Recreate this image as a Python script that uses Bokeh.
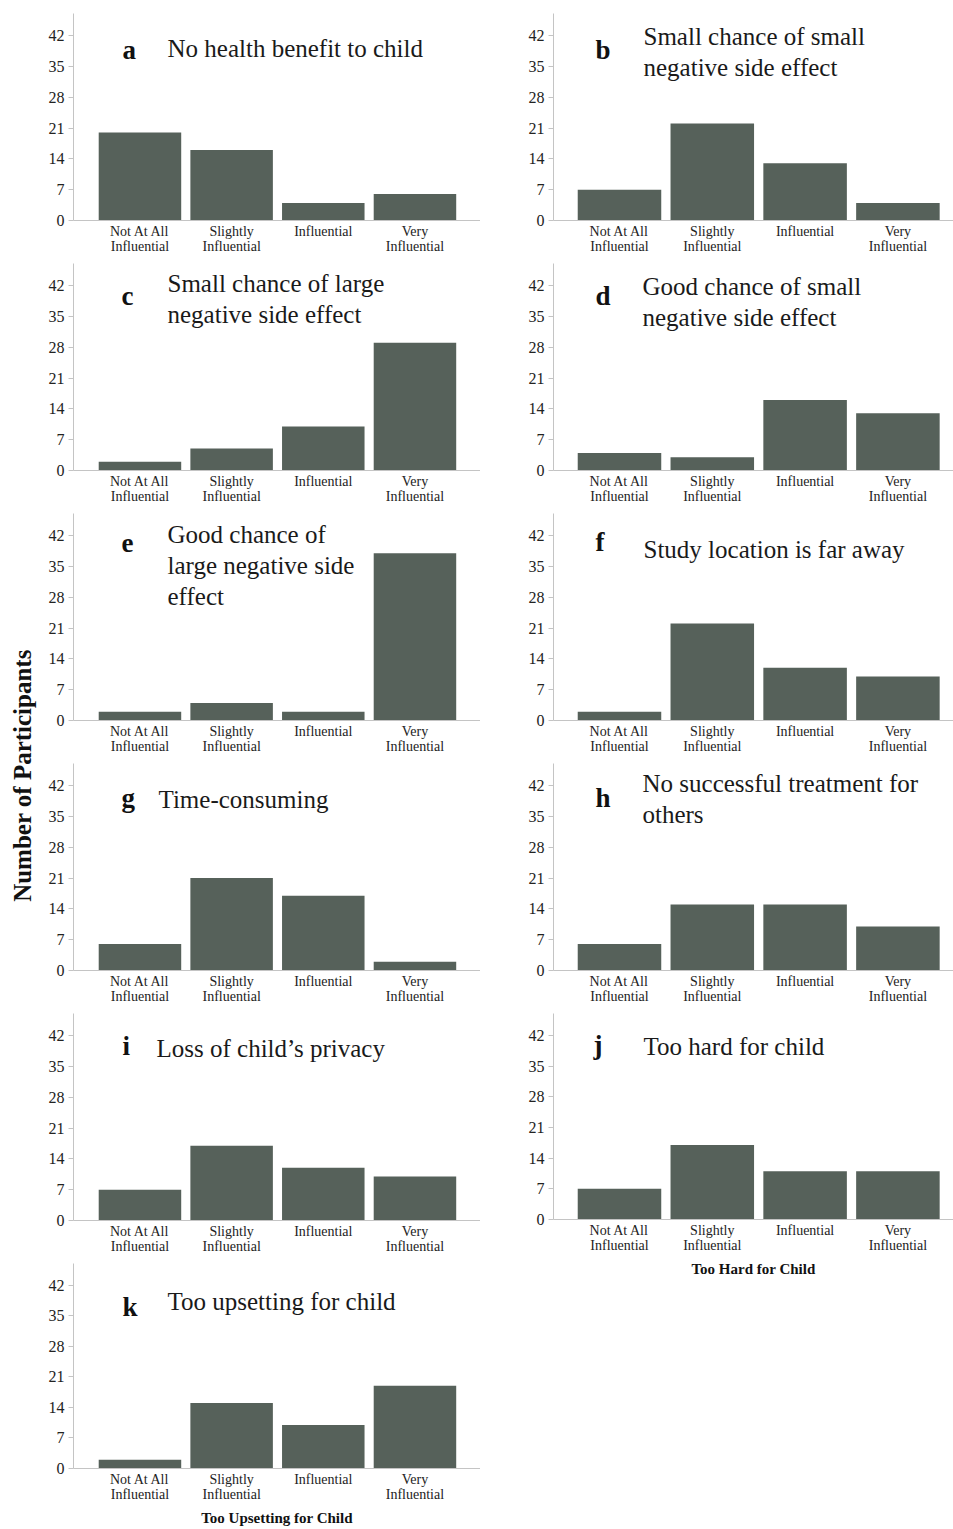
import math
from bokeh.plotting import figure
from bokeh.models import Range1d, FixedTicker, Label
from bokeh.layouts import row, column
from bokeh.embed import file_html
from bokeh.resources import INLINE
from bokeh.core.properties import value

# ---------------- data ----------------
categories = ["Not At All\nInfluential", "Slightly\nInfluential", "Influential", "Very\nInfluential"]
y_ticks = [0, 7, 14, 21, 28, 35, 42]

vals_a = [20, 16, 4, 6]
vals_b = [7, 22, 13, 4]
vals_c = [2, 5, 10, 29]
vals_d = [4, 3, 16, 13]
vals_e = [2, 4, 2, 38]
vals_f = [2, 22, 12, 10]
vals_g = [6, 21, 17, 2]
vals_h = [6, 15, 15, 10]
vals_i = [7, 17, 12, 10]
vals_j = [7, 17, 11, 11]
vals_k = [2, 15, 10, 19]

letters = ["a", "b", "c", "d", "e", "f", "g", "h", "i", "j", "k"]
titles = [
    "No health benefit to child",
    "Small chance of small\nnegative side effect",
    "Small chance of large\nnegative side effect",
    "Good chance of small\nnegative side effect",
    "Good chance of\nlarge negative side\neffect",
    "Study location is far away",
    "Time-consuming",
    "No successful treatment for\nothers",
    "Loss of child\u2019s privacy",
    "Too hard for child",
    "Too upsetting for child",
]
all_vals = [vals_a, vals_b, vals_c, vals_d, vals_e, vals_f, vals_g, vals_h, vals_i, vals_j, vals_k]
y_label = "Number of Participants"
x_label_j = "Too Hard for Child"
x_label_k = "Too Upsetting for Child"

# ---------------- styles / layout ----------------
FONT = "Liberation Serif"
BAR = "#56615a"
AXIS = "#c4c4c4"
Y_MAX = 47
FH = 207  # frame height in px
PXY = FH / Y_MAX
LETTER_SHIFT = 8
TITLE_SHIFT = 9

# letter (dx,dy) and title (dx,dy) offsets from frame top-left, at text baseline
text_pos = [
    ((49, 44), (94, 44)),
    ((42, 44), (90, 32)),
    ((48, 40), (94, 29)),
    ((42, 40), (89, 32)),
    ((48, 37), (94, 30)),
    ((42, 36), (90, 45)),
    ((48, 42), (85, 45)),
    ((42, 42), (89, 29)),
    ((49, 40), (83, 44)),
    ((40, 40), (90, 42)),
    ((49, 52), (94, 47)),
]


def make_panel(idx, side, height, top=5, xlabel=None, xlabel_standoff=5):
    if side == "L":
        width, bl, x0, x1 = 436, 29, -0.725, 3.715
    else:
        width, bl, x0, x1 = 473, 73, -0.711, 3.599
    fw = width - bl
    pxx = fw / (x1 - x0)
    p = figure(width=width, height=height, x_range=Range1d(x0, x1), y_range=Range1d(0, Y_MAX),
               output_backend="svg", toolbar_location=None,
               min_border_left=bl, min_border_right=0, min_border_top=top,
               min_border_bottom=height - top - FH)
    p.vbar(x=list(range(len(categories))), top=all_vals[idx], width=0.9,
           fill_color=BAR, line_color=None)
    p.outline_line_color = None
    p.grid.visible = False
    p.background_fill_color = "white"

    xa = p.xaxis[0]
    xa.ticker = FixedTicker(ticks=list(range(len(categories))))
    xa.major_label_overrides = {i: c for i, c in enumerate(categories)}
    xa.major_tick_line_color = None
    xa.minor_tick_line_color = None
    xa.axis_line_color = AXIS
    xa.major_label_text_font = FONT
    xa.major_label_text_font_size = "14px"
    xa.major_label_text_color = "#222222"
    xa.major_label_text_line_height = 1.05
    xa.major_label_standoff = -3
    if xlabel:
        xa.axis_label = xlabel
        xa.axis_label_text_font = FONT
        xa.axis_label_text_font_style = "bold"
        xa.axis_label_text_font_size = "15px"
        xa.axis_label_text_color = "#111111"
        xa.axis_label_standoff = xlabel_standoff

    ya = p.yaxis[0]
    ya.ticker = FixedTicker(ticks=y_ticks)
    ya.minor_tick_line_color = None
    ya.axis_line_color = AXIS
    ya.major_tick_line_color = AXIS
    ya.major_tick_in = 0
    ya.major_tick_out = 5
    ya.major_label_text_font = FONT
    ya.major_label_text_font_size = "16px"
    ya.major_label_text_color = "#222222"
    ya.major_label_standoff = 4

    def to_data(dx, dy):
        return x0 + dx / pxx, Y_MAX - dy / PXY

    (ldx, ldy), (tdx, tdy) = text_pos[idx]
    lx, ly = to_data(ldx, ldy - LETTER_SHIFT)
    p.add_layout(Label(x=lx, y=ly, text=letters[idx], text_font=FONT, text_font_style="bold",
                       text_font_size="27px", text_color="#111111", text_baseline="alphabetic"))
    for k, line in enumerate(titles[idx].split("\n")):
        tx, ty = to_data(tdx, tdy + 31 * k - TITLE_SHIFT)
        p.add_layout(Label(x=tx, y=ty, text=line, text_font=FONT, text_font_size="25px",
                           text_color="#1a1a1a", text_baseline="alphabetic"))
    return p


left = [make_panel(0, "L", 258, top=13), make_panel(2, "L", 250), make_panel(4, "L", 250),
        make_panel(6, "L", 250), make_panel(8, "L", 250),
        make_panel(10, "L", 271, xlabel=x_label_k, xlabel_standoff=5)]
right = [make_panel(1, "R", 258, top=13), make_panel(3, "R", 250), make_panel(5, "R", 250),
         make_panel(7, "R", 250), make_panel(9, "R", 272, xlabel=x_label_j, xlabel_standoff=5)]

H_TOTAL = 1529
ylab = figure(width=44, height=H_TOTAL, x_range=Range1d(0, 44), y_range=Range1d(0, H_TOTAL),
              output_backend="svg", toolbar_location=None, min_border=0,
              x_axis_location=None, y_axis_location=None)
ylab.grid.visible = False
ylab.outline_line_color = None
ylab.text(x=[22], y=[H_TOTAL - 775], text=[y_label], angle=math.pi / 2,
          text_align="center", text_baseline="middle", text_font=value(FONT),
          text_font_style="bold", text_font_size="25px", text_color="#111111")

layout = row(ylab, column(*left), column(*right))

open("out.html", "w").write(file_html(layout, INLINE))
